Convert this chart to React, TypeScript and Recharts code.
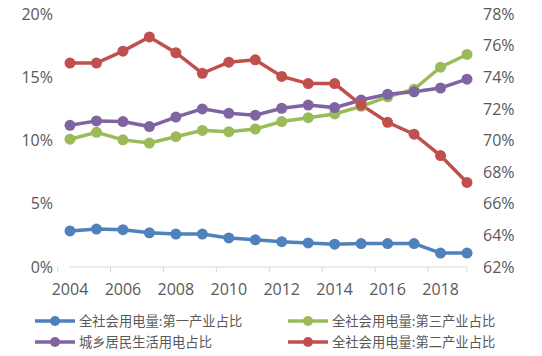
import { LineChart, Line, XAxis, YAxis } from 'recharts';

const years = ['2004', '2005', '2006', '2007', '2008', '2009', '2010', '2011', '2012', '2013', '2014', '2015', '2016', '2017', '2018', '2019'];
const primaryShare = [2.85, 3.0, 2.95, 2.7, 2.6, 2.6, 2.3, 2.15, 2.0, 1.9, 1.8, 1.85, 1.85, 1.85, 1.1, 1.1];
const tertiaryShare = [10.1, 10.65, 10.05, 9.8, 10.3, 10.8, 10.7, 10.9, 11.5, 11.8, 12.1, 12.7, 13.45, 14.05, 15.8, 16.8];
const residentialShare = [11.2, 11.55, 11.5, 11.1, 11.85, 12.5, 12.15, 12.0, 12.55, 12.8, 12.6, 13.2, 13.65, 13.85, 14.15, 14.85];
const secondaryShare = [74.9, 74.9, 75.65, 76.55, 75.55, 74.25, 74.95, 75.1, 74.05, 73.6, 73.6, 72.25, 71.15, 70.4, 69.05, 67.35];

const leftTicks = [0, 5, 10, 15, 20];
const rightTicks = [62, 64, 66, 68, 70, 72, 74, 76, 78];

const series = [
    { key: 'primary', name: '全社会用电量:第一产业占比', color: '#4F81BD', axis: 'left' },
    { key: 'tertiary', name: '全社会用电量:第三产业占比', color: '#9BBB59', axis: 'left' },
    { key: 'residential', name: '城乡居民生活用电占比', color: '#8064A2', axis: 'left' },
    { key: 'secondary', name: '全社会用电量:第二产业占比', color: '#C0504D', axis: 'right' },
];

// legend reads row by row: blue, green / purple, red
const legendOrder = ['primary', 'tertiary', 'residential', 'secondary'];

const data = years.map((year, i) => ({
    year,
    primary: primaryShare[i],
    tertiary: tertiaryShare[i],
    residential: residentialShare[i],
    secondary: secondaryShare[i],
}));

const W = 542;
const H = 356;
const PLOT_LEFT = 70;
const PLOT_RIGHT = 467;
const BAND = (PLOT_RIGHT - PLOT_LEFT) / years.length;
const TEXT = '#595959';
const FONT = '"Open Sans", sans-serif';

const YearTick = (props: any) => {
    const { x, y, payload, index } = props;
    const left = x - BAND / 2;
    const last = payload.value === '2018';
    return (
        <g>
            <line x1={left} y1={y} x2={left} y2={y + 5} stroke="#d9d9d9" strokeWidth={1} />
            {last && <line x1={PLOT_RIGHT} y1={y} x2={PLOT_RIGHT} y2={y + 5} stroke="#d9d9d9" strokeWidth={1} />}
            <text x={x} y={y + 28} textAnchor="middle" fill={TEXT} fontSize={16} fontFamily={FONT} key={index}>
                {payload.value}
            </text>
        </g>
    );
};

const LegendItem = ({ name, color }: { name: string; color: string }) => (
    <div style={{ display: 'flex', alignItems: 'center', height: 21 }}>
        <svg width={44} height={12} style={{ flex: 'none' }}>
            <line x1={0} y1={6} x2={40} y2={6} stroke={color} strokeWidth={3.5} />
            <circle cx={20} cy={6} r={5} fill={color} />
        </svg>
        <span style={{ fontSize: 13.3, color: TEXT, fontFamily: '"Noto Sans CJK SC", sans-serif', whiteSpace: 'nowrap' }}>{name}</span>
    </div>
);

export default function App() {
    return (
        <div style={{ position: 'absolute', left: 0, top: 0, width: W, height: H, background: '#fff' }}>
            <LineChart width={W} height={H} data={data} margin={{ top: 14, right: 0, left: 0, bottom: 49 }}>
                <XAxis
                    dataKey="year"
                    interval={1}
                    height={40}
                    tickSize={0}
                    tickMargin={0}
                    tickLine={false}
                    axisLine={{ stroke: '#d9d9d9', strokeWidth: 1 }}
                    tick={<YearTick />}
                />
                <YAxis
                    yAxisId="left"
                    orientation="left"
                    width={70}
                    domain={[0, 20]}
                    ticks={leftTicks}
                    tickFormatter={(v) => `${v}%`}
                    axisLine={false}
                    tickLine={false}
                    tickSize={0}
                    tickMargin={17}
                    tick={{ fill: TEXT, fontSize: 16, fontFamily: FONT }}
                />
                <YAxis
                    yAxisId="right"
                    orientation="right"
                    width={75}
                    domain={[62, 78]}
                    ticks={rightTicks}
                    tickFormatter={(v) => `${v}%`}
                    axisLine={false}
                    tickLine={false}
                    tickSize={0}
                    tickMargin={16}
                    tick={{ fill: TEXT, fontSize: 16, fontFamily: FONT }}
                />
                {series.map((s) => (
                    <Line
                        key={s.key}
                        yAxisId={s.axis}
                        type="linear"
                        dataKey={s.key}
                        name={s.name}
                        stroke={s.color}
                        strokeWidth={3.5}
                        dot={{ r: 5.5, fill: s.color, stroke: s.color, strokeWidth: 0 }}
                        activeDot={false}
                        isAnimationActive={false}
                    />
                ))}
            </LineChart>
            <div
                style={{
                    position: 'absolute',
                    left: 35,
                    top: 310,
                    display: 'grid',
                    gridTemplateColumns: '253px 220px',
                }}
            >
                {legendOrder.map((k) => {
                    const s = series.find((x) => x.key === k)!;
                    return <LegendItem key={k} name={s.name} color={s.color} />;
                })}
            </div>
        </div>
    );
}
